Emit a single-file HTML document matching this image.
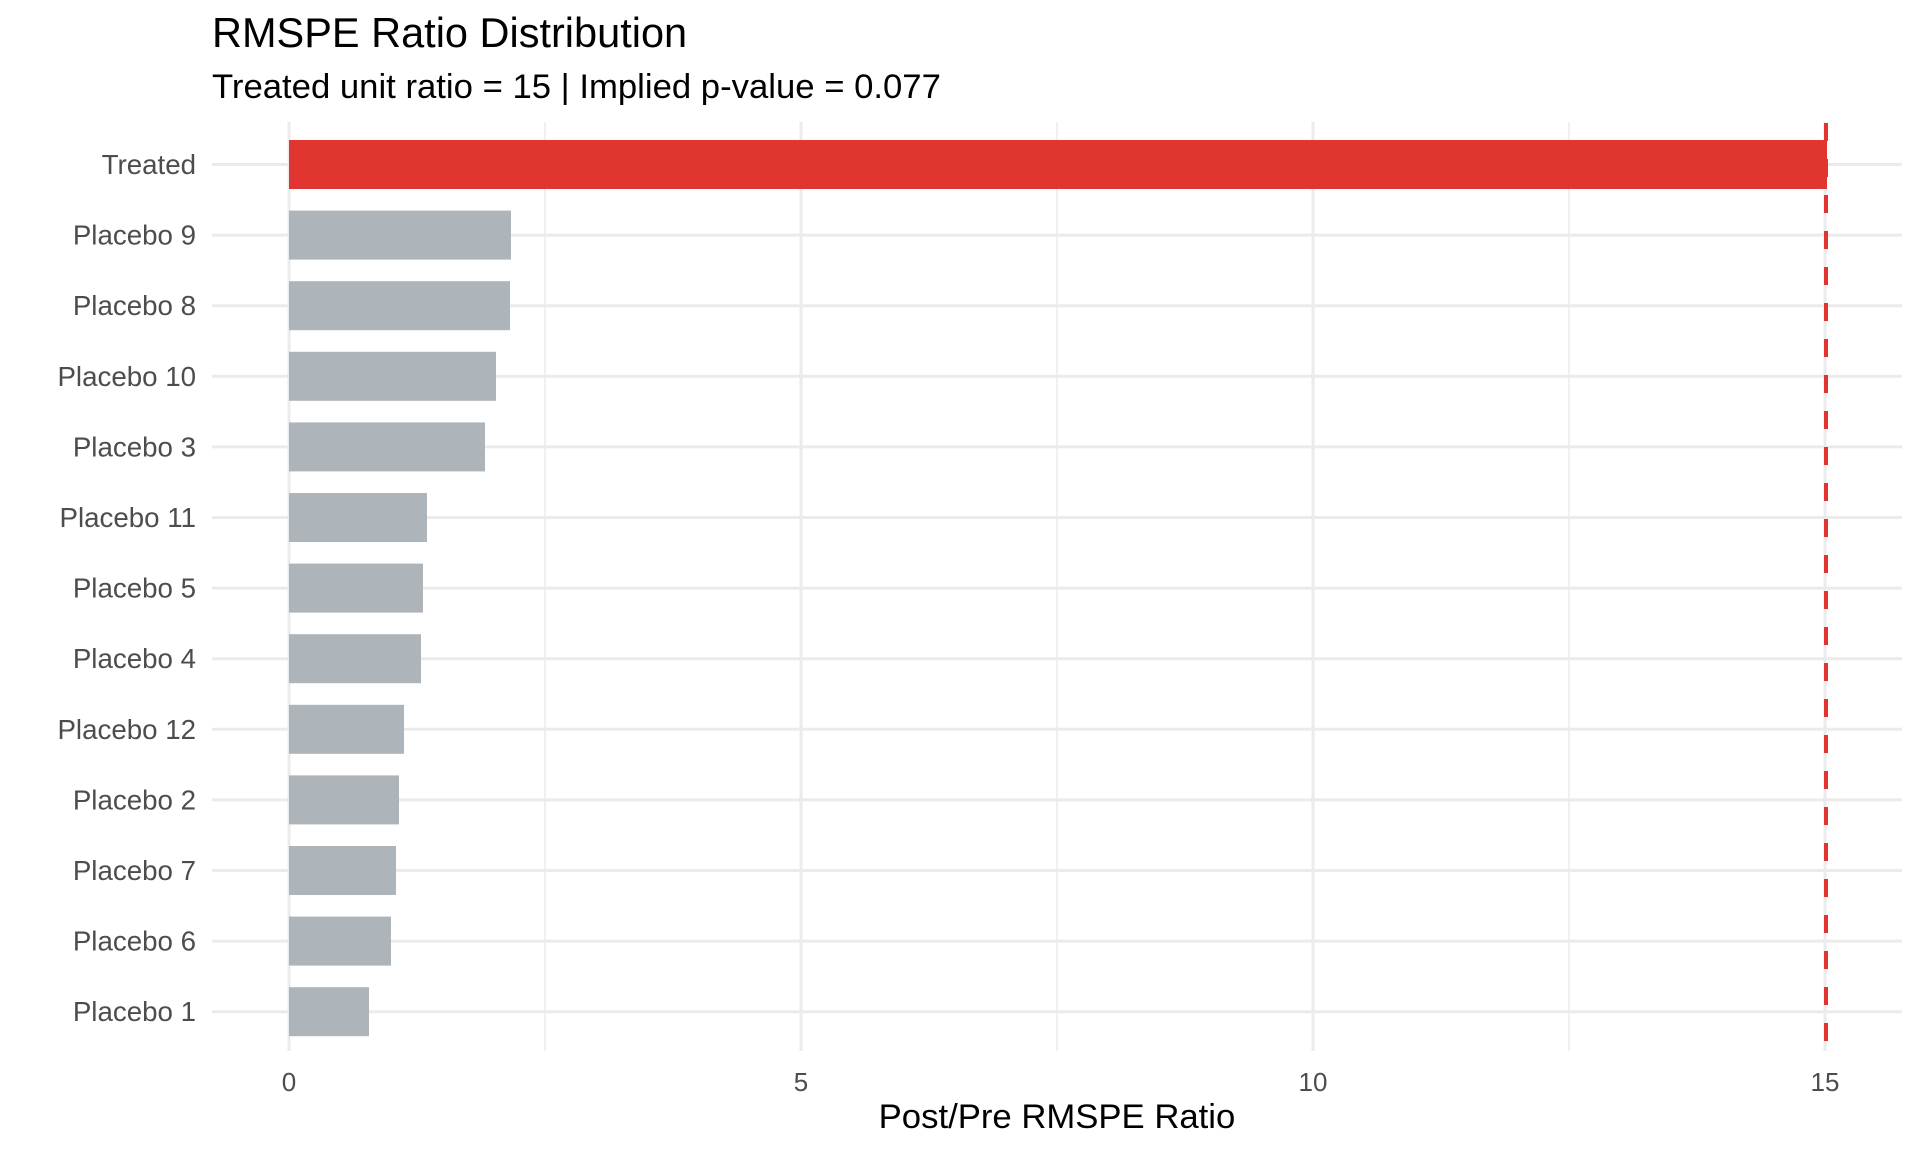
<!DOCTYPE html>
<html><head><meta charset="utf-8"><style>
body{margin:0;background:#fff;}
svg{display:block;font-family:"Liberation Sans",Arial,sans-serif;}
</style></head><body>
<svg width="1920" height="1152" viewBox="0 0 1920 1152" xmlns="http://www.w3.org/2000/svg">
<rect width="1920" height="1152" fill="#fff"/>
<text x="212" y="47" font-size="41.5" fill="#000">RMSPE Ratio Distribution</text>
<text x="212" y="98" font-size="34.7" fill="#000">Treated unit ratio = 15 | Implied p-value = 0.077</text>
<g stroke="#ebebeb" stroke-width="1.5">
<line x1="545" y1="122" x2="545" y2="1051"/>
<line x1="1057" y1="122" x2="1057" y2="1051"/>
<line x1="1569" y1="122" x2="1569" y2="1051"/>
</g>
<g stroke="#ebebeb" stroke-width="3">
<line x1="289" y1="122" x2="289" y2="1051"/>
<line x1="801" y1="122" x2="801" y2="1051"/>
<line x1="1313" y1="122" x2="1313" y2="1051"/>
<line x1="1825" y1="122" x2="1825" y2="1051"/>
<line x1="212" y1="164.5" x2="1902" y2="164.5"/>
<line x1="212" y1="235.1" x2="1902" y2="235.1"/>
<line x1="212" y1="305.7" x2="1902" y2="305.7"/>
<line x1="212" y1="376.3" x2="1902" y2="376.3"/>
<line x1="212" y1="446.9" x2="1902" y2="446.9"/>
<line x1="212" y1="517.5" x2="1902" y2="517.5"/>
<line x1="212" y1="588.1" x2="1902" y2="588.1"/>
<line x1="212" y1="658.7" x2="1902" y2="658.7"/>
<line x1="212" y1="729.3" x2="1902" y2="729.3"/>
<line x1="212" y1="799.9" x2="1902" y2="799.9"/>
<line x1="212" y1="870.5" x2="1902" y2="870.5"/>
<line x1="212" y1="941.1" x2="1902" y2="941.1"/>
<line x1="212" y1="1011.7" x2="1902" y2="1011.7"/>
</g>
<rect x="289" y="140" width="1538" height="49" fill="#e03531"/>
<g fill="#adb4ba">
<rect x="289" y="210.6" width="222" height="49"/>
<rect x="289" y="281.2" width="221" height="49"/>
<rect x="289" y="351.8" width="207" height="49"/>
<rect x="289" y="422.4" width="196" height="49"/>
<rect x="289" y="493" width="138" height="49"/>
<rect x="289" y="563.6" width="134" height="49"/>
<rect x="289" y="634.2" width="132" height="49"/>
<rect x="289" y="704.8" width="115" height="49"/>
<rect x="289" y="775.4" width="110" height="49"/>
<rect x="289" y="846" width="107" height="49"/>
<rect x="289" y="916.6" width="102" height="49"/>
<rect x="289" y="987.2" width="80" height="49"/>
</g>
<line x1="1826" y1="123" x2="1826" y2="1051" stroke="#e03531" stroke-width="4" stroke-dasharray="18 18"/>
<g font-size="27.7" fill="#4d4d4d" text-anchor="end">
<text x="196" y="174">Treated</text>
<text x="196" y="244.6">Placebo 9</text>
<text x="196" y="315.2">Placebo 8</text>
<text x="196" y="385.8">Placebo 10</text>
<text x="196" y="456.4">Placebo 3</text>
<text x="196" y="527">Placebo 11</text>
<text x="196" y="597.6">Placebo 5</text>
<text x="196" y="668.2">Placebo 4</text>
<text x="196" y="738.8">Placebo 12</text>
<text x="196" y="809.4">Placebo 2</text>
<text x="196" y="880">Placebo 7</text>
<text x="196" y="950.6">Placebo 6</text>
<text x="196" y="1021.2">Placebo 1</text>
</g>
<g font-size="26" fill="#4d4d4d" text-anchor="middle">
<text x="289" y="1091">0</text>
<text x="801" y="1091">5</text>
<text x="1313" y="1091">10</text>
<text x="1825" y="1091">15</text>
</g>
<text x="1057" y="1128" font-size="34.7" fill="#000" text-anchor="middle">Post/Pre RMSPE Ratio</text>
</svg>
</body></html>
